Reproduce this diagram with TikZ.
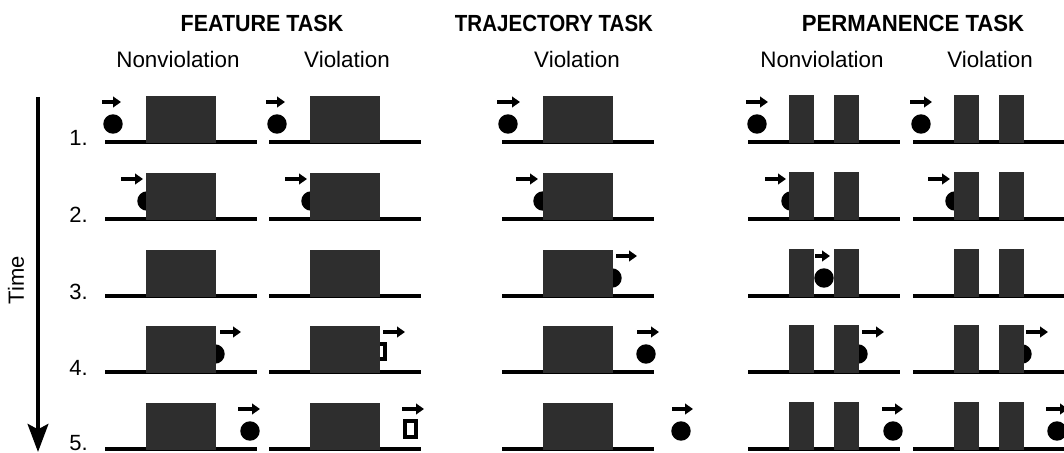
\documentclass[tikz,border=0pt]{standalone}
\usepackage{fontspec}
\usepackage{graphicx}
\setmainfont{Liberation Sans}
\usetikzlibrary{arrows.meta}
\tikzset{
  ground/.style={line width=3pt},
  block/.style={fill=black!82},
  mover/.style={line width=3pt,-{Triangle[length=6pt,width=8pt]}},
  timeline/.style={line width=3pt,-{Stealth[length=21pt,width=15.5pt,inset=4pt]}},
  handle/.style={line width=2.5pt,draw=black,fill=white},
  collabel/.style={inner sep=0pt,anchor=base,font=\fontsize{16.8}{18}\selectfont},
  tasklabel/.style={inner sep=0pt,anchor=base,font=\fontsize{17.5}{19}\selectfont\bfseries},
  rowlabel/.style={inner sep=0pt,anchor=base east,font=\fontsize{16.5}{18}\selectfont},
}
\newcommand{\floorline}{\draw[ground] (0,0) -- (152,0);}
\newcommand{\wideblock}{\fill[block] (41,1) rectangle (111,-46);}
\newcommand{\twoscreens}{\fill[block] (41,1) rectangle (66,-47);\fill[block] (86,1) rectangle (111,-47);}
\newcommand{\ballat}[1]{\fill (#1,-18) circle (7.3pt);}
\newcommand{\pushat}[2]{\draw[mover] (#1,-40) -- (#2,-40);}
\begin{document}
\begin{tikzpicture}[x=0.75pt,y=-0.75pt]
\useasboundingbox (0,0) rectangle (1064,453);
\clip (0,0) rectangle (1064,453);
% headings
\node[tasklabel] (hf) at (262,32) {\scalebox{0.92}[1]{FEATURE TASK}};
\node[tasklabel] (ht) at (554,32) {\scalebox{0.88}[1]{TRAJECTORY TASK}};
\node[tasklabel] (hp) at (913,32) {\scalebox{0.95}[1]{PERMANENCE TASK}};
\node[collabel] (cfn) at (178,68) {Nonviolation};
\node[collabel] (cfv) at (347,68) {Violation};
\node[collabel] (ctv) at (577,68) {Violation};
\node[collabel] (cpn) at (822,68) {Nonviolation};
\node[collabel] (cpv) at (990,68) {Violation};
% time axis
\coordinate (tstart) at (38,97);
\coordinate (tend) at (38,452);
\draw[timeline] (tstart) -- (tend);
\node[rotate=90,inner sep=0pt,font=\fontsize{16.5}{18}\selectfont] (timelbl) at (16,280) {Time};
% row numbers
\node[rowlabel] (r1) at (88,145) {1.};
\node[rowlabel] (r2) at (88,222) {2.};
\node[rowlabel] (r3) at (88,299) {3.};
\node[rowlabel] (r4) at (88,375) {4.};
\node[rowlabel] (r5) at (88,450) {5.};
% ---------------- FEATURE: Nonviolation ----------------
\begin{scope}[shift={(105,142)}]
 \floorline \ballat{8} \wideblock \pushat{-3}{16}
\end{scope}
\begin{scope}[shift={(105,219)}]
 \floorline \ballat{42} \wideblock \pushat{16}{38}
\end{scope}
\begin{scope}[shift={(105,296)}]
 \floorline \wideblock
\end{scope}
\begin{scope}[shift={(105,372)}]
 \floorline \ballat{110} \wideblock \pushat{115}{136}
\end{scope}
\begin{scope}[shift={(105,449)}]
 \floorline \ballat{145} \wideblock \pushat{133}{155}
\end{scope}
% ---------------- FEATURE: Violation ----------------
\begin{scope}[shift={(269,142)}]
 \floorline \ballat{8} \wideblock \pushat{-3}{16}
\end{scope}
\begin{scope}[shift={(269,219)}]
 \floorline \ballat{42} \wideblock \pushat{16}{38}
\end{scope}
\begin{scope}[shift={(269,296)}]
 \floorline \wideblock
\end{scope}
\begin{scope}[shift={(269,372)}]
 \floorline \draw[handle] (104,-28) rectangle (116,-13); \wideblock \pushat{114}{136}
\end{scope}
\begin{scope}[shift={(269,449)}]
 \floorline \wideblock \draw[handle] (136,-28) rectangle (147,-12); \pushat{133}{155}
\end{scope}
% ---------------- TRAJECTORY: Violation ----------------
\begin{scope}[shift={(502,142)}]
 \floorline \ballat{6} \wideblock \pushat{-5}{18}
\end{scope}
\begin{scope}[shift={(502,219)}]
 \floorline \ballat{41} \wideblock \pushat{14}{36}
\end{scope}
\begin{scope}[shift={(502,296)}]
 \floorline \ballat{110} \wideblock \pushat{114}{135}
\end{scope}
\begin{scope}[shift={(502,372)}]
 \floorline \wideblock \ballat{144} \pushat{135}{157}
\end{scope}
\begin{scope}[shift={(502,449)}]
 \floorline \wideblock \ballat{179} \pushat{170}{191}
\end{scope}
% ---------------- PERMANENCE: Nonviolation ----------------
\begin{scope}[shift={(748,142)}]
 \floorline \ballat{9} \twoscreens \pushat{-2}{20}
\end{scope}
\begin{scope}[shift={(748,219)}]
 \floorline \ballat{43} \twoscreens \pushat{17}{38}
\end{scope}
\begin{scope}[shift={(748,296)}]
 \floorline \twoscreens \ballat{76} \pushat{67}{82}
\end{scope}
\begin{scope}[shift={(748,372)}]
 \floorline \ballat{110} \twoscreens \pushat{114}{136}
\end{scope}
\begin{scope}[shift={(748,449)}]
 \floorline \twoscreens \ballat{145} \pushat{134}{155}
\end{scope}
% ---------------- PERMANENCE: Violation ----------------
\begin{scope}[shift={(913,142)}]
 \floorline \ballat{8} \twoscreens \pushat{-3}{19}
\end{scope}
\begin{scope}[shift={(913,219)}]
 \floorline \ballat{42} \twoscreens \pushat{15}{37}
\end{scope}
\begin{scope}[shift={(913,296)}]
 \floorline \twoscreens
\end{scope}
\begin{scope}[shift={(913,372)}]
 \floorline \ballat{109} \twoscreens \pushat{113}{135}
\end{scope}
\begin{scope}[shift={(913,449)}]
 \floorline \twoscreens \ballat{144} \pushat{133}{155}
\end{scope}
\end{tikzpicture}
\end{document}
